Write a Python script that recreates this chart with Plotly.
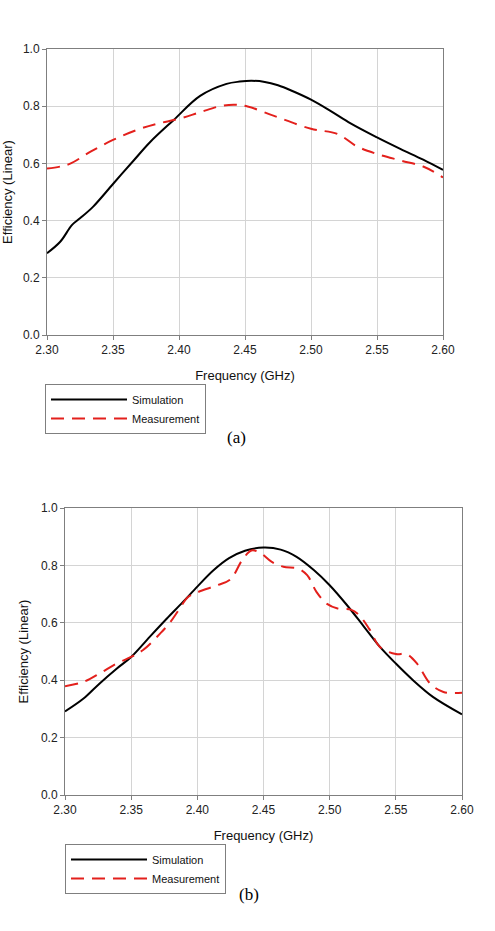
import plotly.graph_objects as go

# ---- data: panel (a) ----
a_sim_f = [2.300, 2.310, 2.319, 2.325, 2.335, 2.350, 2.366, 2.378, 2.396, 2.416, 2.436, 2.446,
           2.455, 2.465, 2.475, 2.485, 2.500, 2.515, 2.530, 2.550, 2.568, 2.585, 2.600]
a_sim_e = [0.286, 0.326, 0.385, 0.408, 0.449, 0.528, 0.612, 0.674, 0.752, 0.836, 0.878, 0.886,
           0.889, 0.885, 0.873, 0.855, 0.823, 0.783, 0.740, 0.691, 0.650, 0.613, 0.577]
a_meas_f = [2.300, 2.310, 2.318, 2.333, 2.350, 2.368, 2.383, 2.400, 2.416, 2.431, 2.442,
            2.452, 2.472, 2.500, 2.520, 2.535, 2.550, 2.568, 2.585, 2.600]
a_meas_e = [0.582, 0.589, 0.600, 0.641, 0.682, 0.717, 0.738, 0.756, 0.779, 0.800, 0.805,
            0.799, 0.766, 0.721, 0.703, 0.659, 0.633, 0.610, 0.589, 0.551]

# ---- data: panel (b) ----
b_sim_f = [2.300, 2.314, 2.326, 2.339, 2.350, 2.364, 2.377, 2.389, 2.400, 2.412, 2.424, 2.436,
           2.450, 2.463, 2.475, 2.488, 2.500, 2.513, 2.526, 2.538, 2.550, 2.563, 2.578, 2.600]
b_sim_e = [0.291, 0.336, 0.388, 0.440, 0.481, 0.551, 0.615, 0.672, 0.726, 0.782, 0.825, 0.851,
           0.862, 0.855, 0.830, 0.784, 0.731, 0.662, 0.586, 0.516, 0.458, 0.400, 0.342, 0.281]
b_meas_f = [2.300, 2.314, 2.326, 2.339, 2.350, 2.359, 2.372, 2.380, 2.386, 2.393, 2.400, 2.415,
            2.425, 2.434, 2.441, 2.448, 2.456, 2.465, 2.476, 2.483, 2.490, 2.498, 2.506, 2.516,
            2.522, 2.530, 2.538, 2.550, 2.558, 2.566, 2.576, 2.586, 2.600]
b_meas_e = [0.379, 0.394, 0.423, 0.458, 0.481, 0.505, 0.563, 0.605, 0.645, 0.690, 0.706, 0.731,
            0.751, 0.819, 0.852, 0.842, 0.813, 0.795, 0.789, 0.766, 0.708, 0.666, 0.650, 0.646,
            0.628, 0.578, 0.516, 0.491, 0.491, 0.458, 0.388, 0.359, 0.356]

series_names = ["Simulation", "Measurement"]
x_title = "Frequency (GHz)"
y_title = "Efficiency (Linear)"
panel_labels = ["(a)", "(b)"]

W, H = 495, 931
FONT = "Liberation Sans, Arial, sans-serif"
RED = "#e3201c"

fig = go.Figure()

def add_panel(sim_f, sim_e, meas_f, meas_e, xa, ya, leg):
    fig.add_trace(go.Scatter(x=sim_f, y=sim_e, name=series_names[0], mode="lines",
                             line=dict(color="black", width=2, shape="spline", smoothing=1.0),
                             xaxis=xa, yaxis=ya, legend=leg))
    fig.add_trace(go.Scatter(x=meas_f, y=meas_e, name=series_names[1], mode="lines",
                             line=dict(color=RED, width=2, dash="13px,8px", shape="spline", smoothing=1.0),
                             xaxis=xa, yaxis=ya, legend=leg))

add_panel(a_sim_f, a_sim_e, a_meas_f, a_meas_e, "x", "y", "legend")
add_panel(b_sim_f, b_sim_e, b_meas_f, b_meas_e, "x2", "y2", "legend2")

def px_x(p):
    return p / W

def px_y(p):
    return 1 - p / H

xcommon = dict(range=[2.30, 2.60], dtick=0.05, tick0=2.30, tickformat=".2f",
               showgrid=True, gridcolor="#d4d4d4", gridwidth=1,
               showline=True, linecolor="#7f7f7f", linewidth=1, mirror=True,
               ticks="outside", ticklen=4, tickcolor="#7f7f7f",
               tickfont=dict(family=FONT, size=12, color="#222"),
               title=dict(text=x_title, font=dict(family=FONT, size=13, color="#111"), standoff=14),
               zeroline=False, automargin=False, fixedrange=True)
ycommon = dict(range=[0, 1.0], dtick=0.2, tick0=0, tickformat=".1f",
               showgrid=True, gridcolor="#d4d4d4", gridwidth=1,
               showline=True, linecolor="#7f7f7f", linewidth=1, mirror=True,
               ticks="outside", ticklen=4, tickcolor="#7f7f7f",
               tickfont=dict(family=FONT, size=12, color="#222"),
               title=dict(text=y_title, font=dict(family=FONT, size=13, color="#111"), standoff=9),
               zeroline=False, automargin=False, fixedrange=True)

legcommon = dict(bordercolor="#7f7f7f", borderwidth=1, bgcolor="white",
                 font=dict(family=FONT, size=11, color="#111"),
                 itemwidth=76, xanchor="left", yanchor="top",
                 tracegroupgap=0, itemclick=False, itemdoubleclick=False)

fig.update_layout(
    width=W, height=H,
    margin=dict(l=0, r=0, t=0, b=0),
    paper_bgcolor="white", plot_bgcolor="white",
    font=dict(family=FONT),
    showlegend=True,
    xaxis=dict(domain=[px_x(47), px_x(443)], anchor="y", **xcommon),
    yaxis=dict(domain=[px_y(335), px_y(49)], anchor="x", **ycommon),
    xaxis2=dict(domain=[px_x(65), px_x(462)], anchor="y2", **xcommon),
    yaxis2=dict(domain=[px_y(795), px_y(508)], anchor="x2", **ycommon),
    legend=dict(x=px_x(45), y=px_y(384), **legcommon),
    legend2=dict(x=px_x(65), y=px_y(844), **legcommon),
    annotations=[
        dict(text=panel_labels[0], x=px_x(236), y=px_y(438), xref="paper", yref="paper",
             showarrow=False, font=dict(family="Liberation Serif, Times New Roman, serif", size=17, color="black")),
        dict(text=panel_labels[1], x=px_x(249), y=px_y(906), xref="paper", yref="paper",
             showarrow=False, font=dict(family="Liberation Serif, Times New Roman, serif", size=17, color="black")),
    ],
)

fig.write_html("out.html")
